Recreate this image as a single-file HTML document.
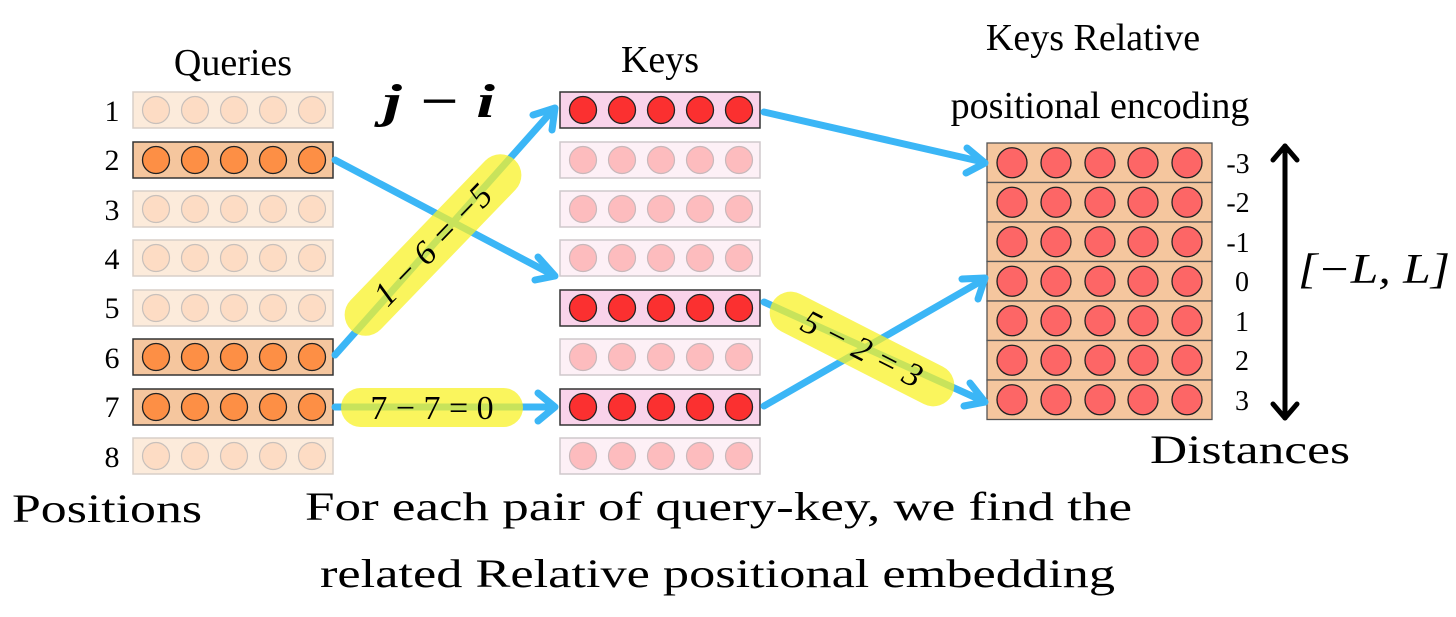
<!DOCTYPE html>
<html><head><meta charset="utf-8"><style>
html,body{margin:0;padding:0;background:#fff;}
svg{display:block;}
text{font-family:"Liberation Serif",serif;fill:#000;}
</style></head><body>
<svg width="1456" height="617" viewBox="0 0 1456 617" xmlns="http://www.w3.org/2000/svg">
<defs>
<g id="qf"><rect x="0" y="0" width="200" height="36" fill="#fcebdb" stroke="#d8cfc8" stroke-width="1.5"/>
<circle cx="23" cy="18" r="13.5" fill="#fddcc4" stroke="#c8c0bb" stroke-width="1.2"/><circle cx="62" cy="18" r="13.5" fill="#fddcc4" stroke="#c8c0bb" stroke-width="1.2"/><circle cx="101" cy="18" r="13.5" fill="#fddcc4" stroke="#c8c0bb" stroke-width="1.2"/><circle cx="140" cy="18" r="13.5" fill="#fddcc4" stroke="#c8c0bb" stroke-width="1.2"/><circle cx="179" cy="18" r="13.5" fill="#fddcc4" stroke="#c8c0bb" stroke-width="1.2"/></g>
<g id="qh"><rect x="0" y="0" width="200" height="36" fill="#f5c69e" stroke="#333" stroke-width="1.5"/>
<circle cx="23" cy="18" r="13.5" fill="#fd8f45" stroke="#222" stroke-width="1.3"/><circle cx="62" cy="18" r="13.5" fill="#fd8f45" stroke="#222" stroke-width="1.3"/><circle cx="101" cy="18" r="13.5" fill="#fd8f45" stroke="#222" stroke-width="1.3"/><circle cx="140" cy="18" r="13.5" fill="#fd8f45" stroke="#222" stroke-width="1.3"/><circle cx="179" cy="18" r="13.5" fill="#fd8f45" stroke="#222" stroke-width="1.3"/></g>
<g id="kf"><rect x="0" y="0" width="200" height="36" fill="#fdf0f6" stroke="#cfc8cc" stroke-width="1.5"/>
<circle cx="23" cy="18" r="13.5" fill="#fdbcbe" stroke="#c8b8bb" stroke-width="1.2"/><circle cx="62" cy="18" r="13.5" fill="#fdbcbe" stroke="#c8b8bb" stroke-width="1.2"/><circle cx="101" cy="18" r="13.5" fill="#fdbcbe" stroke="#c8b8bb" stroke-width="1.2"/><circle cx="140" cy="18" r="13.5" fill="#fdbcbe" stroke="#c8b8bb" stroke-width="1.2"/><circle cx="179" cy="18" r="13.5" fill="#fdbcbe" stroke="#c8b8bb" stroke-width="1.2"/></g>
<g id="kh"><rect x="0" y="0" width="200" height="36" fill="#f9d3ea" stroke="#333" stroke-width="1.5"/>
<circle cx="23" cy="18" r="13.5" fill="#fb3030" stroke="#222" stroke-width="1.3"/><circle cx="62" cy="18" r="13.5" fill="#fb3030" stroke="#222" stroke-width="1.3"/><circle cx="101" cy="18" r="13.5" fill="#fb3030" stroke="#222" stroke-width="1.3"/><circle cx="140" cy="18" r="13.5" fill="#fb3030" stroke="#222" stroke-width="1.3"/><circle cx="179" cy="18" r="13.5" fill="#fb3030" stroke="#222" stroke-width="1.3"/></g>
<g id="mr"><rect x="0" y="0" width="225" height="39.5" fill="#f5c69e" stroke="#555" stroke-width="1.3"/>
<circle cx="25" cy="19.75" r="15" fill="#fd6666" stroke="#222" stroke-width="1.3"/><circle cx="69" cy="19.75" r="15" fill="#fd6666" stroke="#222" stroke-width="1.3"/><circle cx="113" cy="19.75" r="15" fill="#fd6666" stroke="#222" stroke-width="1.3"/><circle cx="156" cy="19.75" r="15" fill="#fd6666" stroke="#222" stroke-width="1.3"/><circle cx="200" cy="19.75" r="15" fill="#fd6666" stroke="#222" stroke-width="1.3"/></g>
</defs>

<!-- Titles -->
<text x="233" y="75" font-size="38" text-anchor="middle">Queries</text>
<text x="660" y="72" font-size="38" text-anchor="middle">Keys</text>
<text x="1093" y="50" font-size="38" text-anchor="middle">Keys Relative</text>
<text x="1100" y="118" font-size="38" text-anchor="middle">positional encoding</text>
<text x="383" y="117" font-size="48" font-style="italic" font-weight="bold" textLength="112" lengthAdjust="spacingAndGlyphs">j − i</text>

<!-- Position numbers -->
<g font-size="30" text-anchor="middle">
<text x="112" y="121">1</text><text x="112" y="170">2</text><text x="112" y="220">3</text><text x="112" y="269">4</text>
<text x="112" y="318">5</text><text x="112" y="368">6</text><text x="112" y="417">7</text><text x="112" y="467">8</text>
</g>

<!-- Queries -->
<use href="#qf" x="133" y="92"/><use href="#qh" x="133" y="142"/><use href="#qf" x="133" y="191"/><use href="#qf" x="133" y="240"/>
<use href="#qf" x="133" y="290"/><use href="#qh" x="133" y="339"/><use href="#qh" x="133" y="389"/><use href="#qf" x="133" y="438"/>

<!-- Keys -->
<use href="#kh" x="560" y="92"/><use href="#kf" x="560" y="142"/><use href="#kf" x="560" y="191"/><use href="#kf" x="560" y="240"/>
<use href="#kh" x="560" y="290"/><use href="#kf" x="560" y="339"/><use href="#kh" x="560" y="389"/><use href="#kf" x="560" y="438"/>

<!-- Matrix -->
<use href="#mr" x="987" y="143"/><use href="#mr" x="987" y="182.5"/><use href="#mr" x="987" y="222"/><use href="#mr" x="987" y="261.5"/>
<use href="#mr" x="987" y="301"/><use href="#mr" x="987" y="340.5"/><use href="#mr" x="987" y="380"/>
<g font-size="28" text-anchor="middle">
<text x="1238" y="173">-3</text><text x="1238" y="212">-2</text><text x="1238" y="252">-1</text><text x="1242" y="291">0</text>
<text x="1242" y="331">1</text><text x="1242" y="370">2</text><text x="1242" y="410">3</text>
</g>

<!-- double arrow -->
<g stroke="#000" stroke-width="5" fill="none" stroke-linecap="round" stroke-linejoin="round">
<line x1="1285" y1="146" x2="1285" y2="418"/>
<polyline points="1273,160 1285,146 1297,160"/>
<polyline points="1273,404 1285,418 1297,404"/>
</g>
<text x="1298" y="283" font-size="42" font-style="italic" textLength="152" lengthAdjust="spacingAndGlyphs">[−L, L]</text>

<!-- Blue arrows -->
<g stroke="#3bb6f6" stroke-width="7" fill="none" stroke-linecap="round" stroke-linejoin="round">
<line x1="335" y1="160" x2="553" y2="275"/><polyline points="538,257 555,276 535,280"/>
<line x1="335" y1="355" x2="553" y2="110"/><polyline points="533,115 555,108 552,130"/>
<line x1="335" y1="407" x2="553" y2="407"/><polyline points="538,393 555,407 538,421"/>
<line x1="764" y1="112" x2="983" y2="162"/><polyline points="967,148 985,163 966,173"/>
<line x1="764" y1="302" x2="983" y2="401"/><polyline points="970,383 985,402 964,406"/>
<line x1="764" y1="406" x2="983" y2="280"/><polyline points="962,279 985,278 978,299"/>
</g>

<!-- Yellow labels -->
<g transform="translate(433,245) rotate(-46)">
<rect x="-118" y="-21" width="236" height="42" rx="21" fill="#f8f227" fill-opacity="0.75"/>
<text x="0" y="11" font-size="34" font-style="italic" text-anchor="middle">1 − 6 = −5</text>
</g>
<g transform="translate(862,349) rotate(27)">
<rect x="-101" y="-21" width="202" height="42" rx="21" fill="#f8f227" fill-opacity="0.75"/>
<text x="0" y="11" font-size="34" font-style="italic" text-anchor="middle">5 − 2 = 3</text>
</g>
<rect x="341" y="388" width="182" height="39" rx="19.5" fill="#f8f227" fill-opacity="0.75"/>
<text x="432" y="419" font-size="34" text-anchor="middle">7 − 7 = 0</text>

<!-- bottom text -->
<text x="1150" y="463" font-size="40" textLength="200" lengthAdjust="spacingAndGlyphs">Distances</text>
<text x="12" y="522" font-size="40" textLength="190" lengthAdjust="spacingAndGlyphs">Positions</text>
<text x="305" y="520" font-size="40" textLength="827" lengthAdjust="spacingAndGlyphs">For each pair of query-key, we find the</text>
<text x="320" y="587" font-size="40" textLength="795" lengthAdjust="spacingAndGlyphs">related Relative positional embedding</text>
</svg>
</body></html>
